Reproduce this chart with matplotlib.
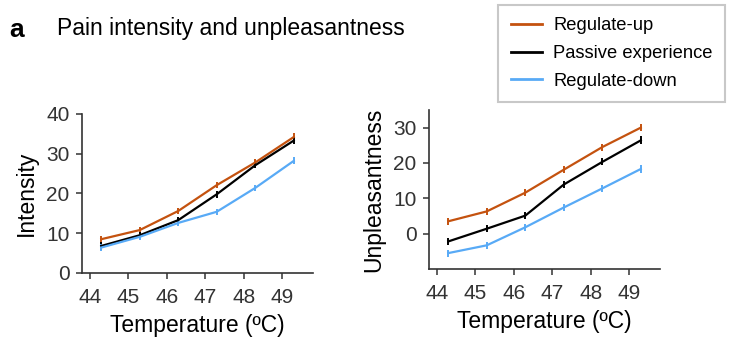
import matplotlib
matplotlib.use("Agg")
import matplotlib.pyplot as plt
from matplotlib.lines import Line2D

plt.rcParams['font.family'] = ['Liberation Sans', 'DejaVu Sans']

temps = [44.3, 45.3, 46.3, 47.3, 48.3, 49.3]
conditions = ["Regulate-up", "Passive experience", "Regulate-down"]
colors = ["#c4520f", "#000000", "#58aaf6"]

intensity = [
    [8.5, 10.8, 15.6, 22.1, 27.8, 34.2],
    [6.8, 9.5, 13.3, 19.8, 27.1, 33.3],
    [6.4, 9.1, 12.6, 15.4, 21.4, 28.2],
]
intensity_err = [
    [0.9, 0.8, 0.8, 0.8, 0.8, 0.9],
    [0.9, 0.8, 0.8, 0.9, 0.8, 0.8],
    [0.8, 0.7, 0.7, 0.8, 0.8, 0.9],
]

unpleasant = [
    [3.5, 6.3, 11.6, 18.1, 24.5, 30.0],
    [-2.2, 1.4, 5.1, 13.9, 20.3, 26.4],
    [-5.5, -3.3, 1.8, 7.4, 12.8, 18.3],
]
unpleasant_err = [
    [1.0, 1.0, 1.0, 1.0, 1.0, 1.0],
    [1.0, 1.0, 1.0, 1.1, 1.0, 1.1],
    [1.0, 1.0, 1.0, 1.0, 1.0, 1.0],
]

fig = plt.figure(figsize=(7.34, 3.45), dpi=100)
ax1 = fig.add_axes([0.1117, 0.2087, 0.3147, 0.4609])
ax2 = fig.add_axes([0.5845, 0.2203, 0.3147, 0.4609])


def style(ax, ylabel):
    for s in ["top", "right"]:
        ax.spines[s].set_visible(False)
    for s in ["left", "bottom"]:
        ax.spines[s].set_color("#333333")
        ax.spines[s].set_linewidth(1.2)
    ax.tick_params(direction="out", length=4, width=1.1, color="#333333",
                   labelcolor="#333333", labelsize=15)
    ax.tick_params(axis="x", pad=7)
    ax.tick_params(axis="y", pad=5)
    ax.set_xlim(43.8, 49.8)
    ax.set_xticks([44, 45, 46, 47, 48, 49])
    ax.set_xlabel("Temperature (ºC)", fontsize=16.5, labelpad=5)
    ax.set_ylabel(ylabel, fontsize=16.5, labelpad=6)


for vals, errs, c in zip(intensity, intensity_err, colors):
    ax1.errorbar(temps, vals, yerr=errs, color=c, lw=1.6, elinewidth=1.4, capsize=0)
for vals, errs, c in zip(unpleasant, unpleasant_err, colors):
    ax2.errorbar(temps, vals, yerr=errs, color=c, lw=1.6, elinewidth=1.4, capsize=0)

style(ax1, "Intensity")
ax1.set_ylim(0, 40)
ax1.set_yticks([0, 10, 20, 30, 40])

style(ax2, "Unpleasantness")
ax2.set_ylim(-10, 35)
ax2.set_yticks([0, 10, 20, 30])

fig.text(0.012, 0.893, "a", fontsize=19, fontweight="bold", va="baseline")
fig.text(0.077, 0.9, "Pain intensity and unpleasantness", fontsize=16.5, va="baseline")

handles = [Line2D([0], [0], color=c, lw=2) for c in colors]
leg = fig.legend(handles, conditions, loc="upper left", bbox_to_anchor=(0.679, 0.986),
                 fontsize=13.2, frameon=True, fancybox=False, handlelength=1.7,
                 handletextpad=0.6, labelspacing=0.58, borderpad=0.68, borderaxespad=0)
leg.get_frame().set_edgecolor("#bbbbbb")
leg.get_frame().set_linewidth(1.5)

fig.savefig("out.png", dpi=100)
